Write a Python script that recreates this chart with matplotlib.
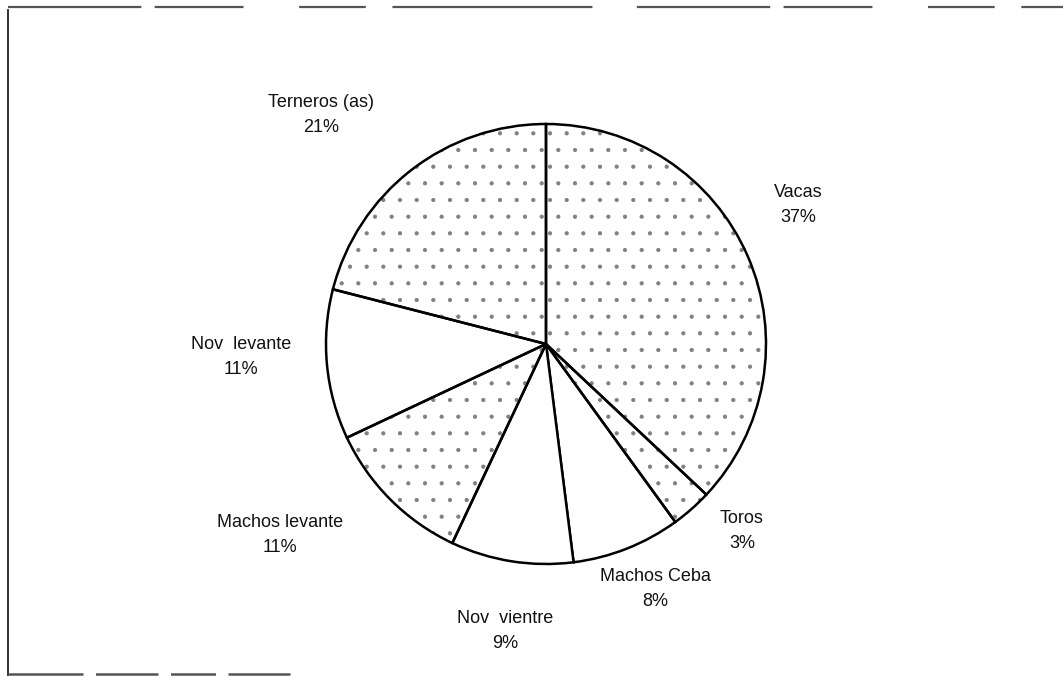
import matplotlib.pyplot as plt
from matplotlib.patches import Wedge

# shares of the herd, clockwise from the top
categorias = ["Vacas", "Toros", "Machos Ceba", "Nov  vientre",
              "Machos levante", "Nov  levante", "Terneros (as)"]
porcentajes = [37, 3, 8, 9, 11, 11, 21]
punteado = [True, True, False, False, True, False, True]

# label centres in pixels of the original scan (x, y from top-left)
pos_etiquetas = [(798, 205), (742, 531), (655, 589), (505, 631),
                 (280, 535), (241, 357), (321, 115)]

W, H, DPI = 1063, 677, 100
CX, CY, R = 546, 344, 220

plt.rcParams['font.family'] = ['Liberation Sans', 'DejaVu Sans']
plt.rcParams['hatch.linewidth'] = 0.6

fig = plt.figure(figsize=(W / DPI, H / DPI), dpi=DPI)
ax = fig.add_axes([0, 0, 1, 1])

wedges, _ = ax.pie(porcentajes, startangle=90, counterclock=False, radius=1,
                   wedgeprops=dict(edgecolor='black', linewidth=1.8, facecolor='white'))
# speckle texture on the shaded slices, in grey, under the black outlines
for w, p in zip(wedges, punteado):
    if p:
        tex = Wedge(w.center, w.r, w.theta1, w.theta2, facecolor='none',
                    edgecolor='#808080', hatch='.', linewidth=0, zorder=w.get_zorder() - 0.1)
        ax.add_patch(tex)
        w.set_facecolor('none')
        w.set_zorder(w.get_zorder() + 0.2)
    else:
        w.set_zorder(w.get_zorder() - 0.2)

ax.set_xlim(-CX / R, (W - CX) / R)
ax.set_ylim(-(H - CY) / R, CY / R)
ax.set_aspect('equal')
ax.axis('off')

for cat, pct, (px, py) in zip(categorias, porcentajes, pos_etiquetas):
    ax.text((px - CX) / R, (CY - py) / R, f"{cat}\n{pct}%", ha='center', va='center',
            fontsize=13, linespacing=1.55, color='#111111')


# scanned frame: broken top and bottom, solid left edge
def px2d(x, y):
    return (x - CX) / R, (CY - y) / R


x0, y0 = px2d(8, 7)
x1, y1 = px2d(1063, 7)
ax.plot([x0, x1], [y0, y1], color='#555555', lw=1.6,
        linestyle=(0, (60, 6, 40, 25, 30, 12, 90, 20)), solid_capstyle='butt', clip_on=False)
xa, ya = px2d(8, 10)
xb, yb = px2d(8, 675)
ax.plot([xa, xb], [ya, yb], color='#222222', lw=1.3, clip_on=False)
xc, yc = px2d(8, 674)
xd, yd = px2d(290, 674)
ax.plot([xc, xd], [yc, yd], color='#555555', lw=1.8,
        linestyle=(0, (30, 5, 25, 5, 18, 5, 40, 5)), clip_on=False)

fig.savefig("out.png", dpi=DPI, facecolor='white')
